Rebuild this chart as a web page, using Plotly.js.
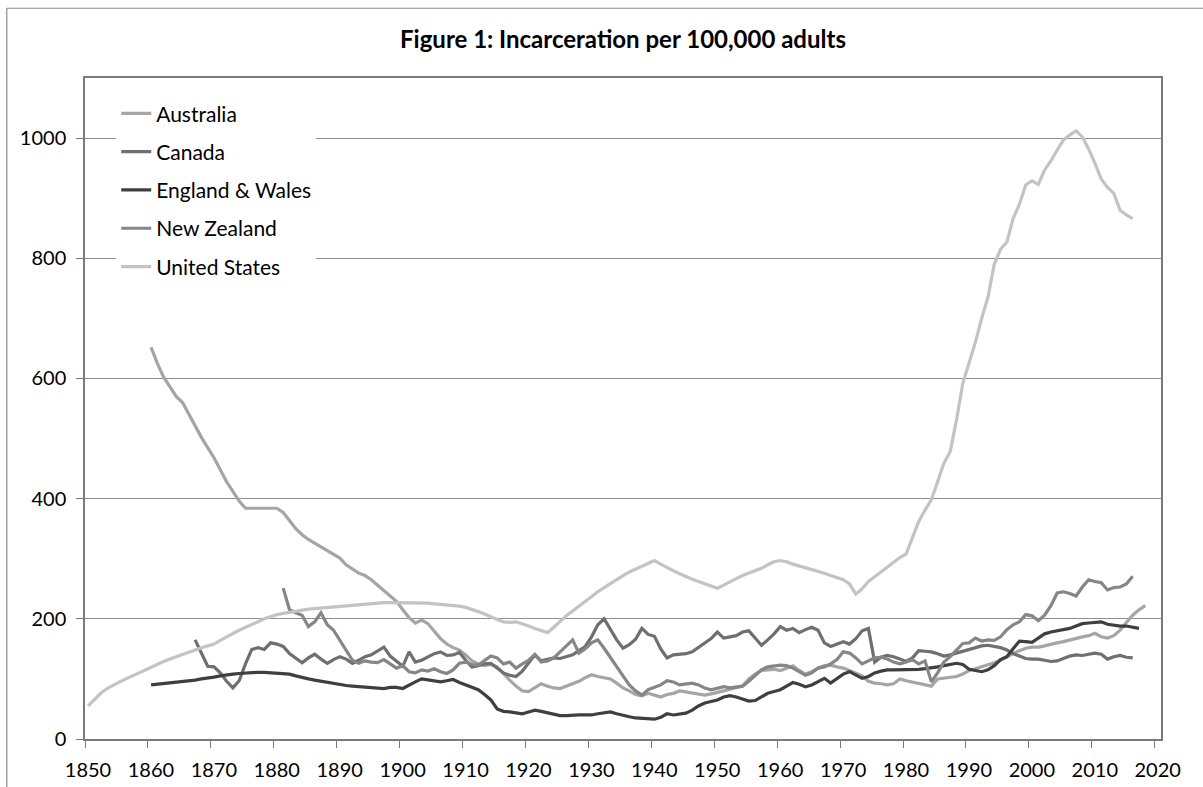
<!DOCTYPE html>
<html>
<head>
<meta charset="utf-8">
<script src="https://cdn.plot.ly/plotly-3.0.1.min.js"></script>
<style>
html,body{margin:0;padding:0;background:#fff;overflow:hidden;}
#chart{width:1203px;height:787px;}
</style>
</head>
<body>
<div id="chart"></div>
<script>
// ---- Data (incarceration per 100,000 adults) ----
const seriesNames = ["Australia", "Canada", "England & Wales", "New Zealand", "United States"];
const startYears = {aus: 1860, can: 1867, ew: 1860, nz: 1881, us: 1850};

const aus = [
652,625,602,585,570,560,540,520,502,485,
468,448,428,412,396,384,384,384,384,384,
384,377,363,350,340,332,326,320,313,307,
301,290,283,276,272,265,256,247,237,229,
215,202,193,198,192,180,167,158,152,148,
140,130,125,122,124,120,108,98,88,80,
79,85,92,88,85,84,88,92,96,102,
107,104,102,100,93,85,80,74,72,76,
73,70,74,76,80,78,76,74,73,75,
77,80,83,86,88,100,108,114,115,116,
114,118,122,114,108,112,118,122,123,120,
118,114,110,105,96,93,92,90,92,100,
97,95,93,90,88,100,101,103,104,108,
114,117,120,123,127,131,137,142,147,151,
153,153,155,158,160,162,165,167,170,172,
176,170,168,172,181,194,206,215,222
];

const can = [
165,142,121,
120,110,96,85,97,125,149,152,149,160,
158,154,142,135,127,135,141,133,126,132,
137,133,126,131,137,140,146,153,138,130,
121,145,128,131,137,142,145,139,140,144,
131,120,122,125,126,118,110,106,104,113,
126,140,130,132,135,134,137,140,147,154,
170,190,200,183,165,151,157,166,184,174,
171,150,135,140,141,142,145,152,160,167,
178,168,170,172,178,180,168,156,165,175,
187,181,184,177,182,186,181,160,154,158,
162,158,167,180,184,128,136,139,137,133,
129,135,147,146,145,142,138,140,143,146,
150,152,155,156,154,152,148,142,138,134,
133,133,131,129,130,134,138,140,139,141,
143,141,133,137,139,136,135
];

const ew = [
90,91,92,93,94,96,97,98,100,101,
103,105,107,108,109,110,111,111,111,110,
110,109,108,105,102,100,98,96,94,92,
90,89,88,87,86,85,84,84,86,86,
84,90,95,100,98,97,95,97,99,94,
90,85,82,74,65,50,46,45,43,42,
45,48,46,44,42,39,39,40,40,40,
40,42,44,45,42,39,37,35,34,34,
33,36,42,40,41,43,48,55,60,63,
65,70,72,70,67,63,64,70,76,79,
82,88,94,91,87,90,95,101,93,100,
108,112,106,101,104,110,113,115,115,115,
115,115,116,117,118,120,122,124,126,124,
116,114,112,115,122,132,137,150,163,162,
161,168,175,178,180,182,184,188,192,193,
194,195,191,189,188,188,186,184
];

const nz = [
251,215,210,206,187,195,210,190,181,
165,148,131,126,130,128,127,132,125,118,
122,112,110,115,113,117,112,109,115,126,
128,124,123,130,138,135,125,128,118,125,
131,141,128,130,135,145,155,165,143,150,
160,165,151,135,120,105,90,80,73,82,
86,90,97,95,90,92,93,90,85,82,
85,87,85,87,88,96,105,115,120,122,
123,122,118,112,106,110,118,120,125,132,
145,143,135,125,130,135,136,133,128,125,
128,132,125,130,95,110,128,137,148,159,
160,168,163,165,164,170,182,190,195,207,
205,197,206,222,243,245,242,238,253,265,
262,260,248,252,253,258,271
];

const us = [
55,66,76,84,90,95,100,105,110,115,
119,124,129,133,137,141,144,148,152,155,
158,164,170,176,181,186,190,195,200,204,
207,209,211,213,214,216,217,218,219,220,
221,222,223,224,225,226,226,227,227,227,
227,227,226,226,226,225,224,224,222,221,
219,216,212,208,203,199,195,194,195,192,
188,184,180,177,186,196,205,213,221,230,
238,245,252,259,266,272,278,283,288,293,
297,291,285,280,275,270,266,262,258,254,
251,256,262,267,272,276,280,284,290,295,
297,295,291,288,286,283,280,276,272,268,
265,258,241,250,262,270,278,287,295,302,
308,335,362,381,398,428,459,478,531,592,
625,660,700,735,790,815,827,866,890,922,
929,923,947,962,980,997,1005,1012,1002,982,
958,932,918,908,880,872,866
];

const xTickLabels = ["1850","1860","1870","1880","1890","1900","1910","1920","1930","1940","1950","1960","1970","1980","1990","2000","2010","2020"];
const yTickVals = [0,200,400,600,800,1000];

// ---- Build traces ----
function yearsFor(start, vals){ return vals.map((v,i)=>start+i); }
const colors = ["#a5a5a5","#6f6f6f","#3f3f3f","#868686","#c3c3c3"];
const dataSets = [
  [startYears.aus, aus],
  [startYears.can, can],
  [startYears.ew, ew],
  [startYears.nz, nz],
  [startYears.us, us]
];
const traces = dataSets.map((d,i)=>({
  type:"scatter", mode:"lines",
  name: seriesNames[i],
  legendgroup: "g"+i,
  x: yearsFor(d[0], d[1]), y: d[1],
  line:{color:colors[i], width:3.2},
  hoverinfo:"x+y+name"
}));

// category boundaries: ticks sit half a year left of each labelled year
const xTickVals = xTickLabels.map(t=>Number(t)-0.5);

const FONT = "Lato, 'Open Sans', sans-serif";
const layout = {
  width:1203, height:787,
  margin:{l:85, r:42, t:78, b:48},
  paper_bgcolor:"#ffffff", plot_bgcolor:"#ffffff",
  font:{family:FONT, color:"#000000"},
  title:{
    text:"<b>Figure 1: Incarceration per 100,000 adults</b>",
    font:{family:FONT, size:24, color:"#000000"},
    xref:"paper", x:0.5, xanchor:"center",
    yref:"container", y:1-40/787, yanchor:"middle"
  },
  showlegend:true,
  legend:{
    x:0.029, xanchor:"left", y:0.977, yanchor:"top",
    bgcolor:"#ffffff", borderwidth:0,
    font:{family:FONT, size:21, color:"#000000"},
    tracegroupgap:8, traceorder:"grouped"
  },
  xaxis:{
    range:[1849.5, 2020.5],
    tickmode:"array", tickvals:xTickVals, ticktext:xTickLabels,
    ticklabelshift:3, ticklabelstandoff:5,
    ticks:"outside", ticklen:7, tickwidth:1.3, tickcolor:"#7a7a7a",
    showline:true, linecolor:"#7a7a7a", linewidth:1.5, mirror:true,
    showgrid:false, zeroline:false,
    tickfont:{family:FONT, size:20, color:"#000000"}
  },
  yaxis:{
    range:[0,1100],
    tickmode:"array", tickvals:yTickVals, ticktext:yTickVals.map(String),
    ticks:"outside", ticklen:7, tickwidth:1.3, tickcolor:"#7a7a7a",
    showline:true, linecolor:"#7a7a7a", linewidth:1.5, mirror:true,
    showgrid:true, gridcolor:"#8f8f8f", gridwidth:1,
    zeroline:false,
    ticklabelstandoff:6,
    tickfont:{family:FONT, size:20, color:"#000000"}
  },
  shapes:[
    {type:"line", xref:"paper", yref:"paper", x0:-0.0727, x1:-0.0727, y0:-0.2, y1:1.1055, line:{color:"#8a8a8a", width:1.2}},
    {type:"line", xref:"paper", yref:"paper", x0:-0.0727, x1:1.2, y0:1.1055, y1:1.1055, line:{color:"#8a8a8a", width:1.2}}
  ]
};

Plotly.newPlot("chart", traces, layout, {displayModeBar:false, staticPlot:false});
</script>
</body>
</html>
